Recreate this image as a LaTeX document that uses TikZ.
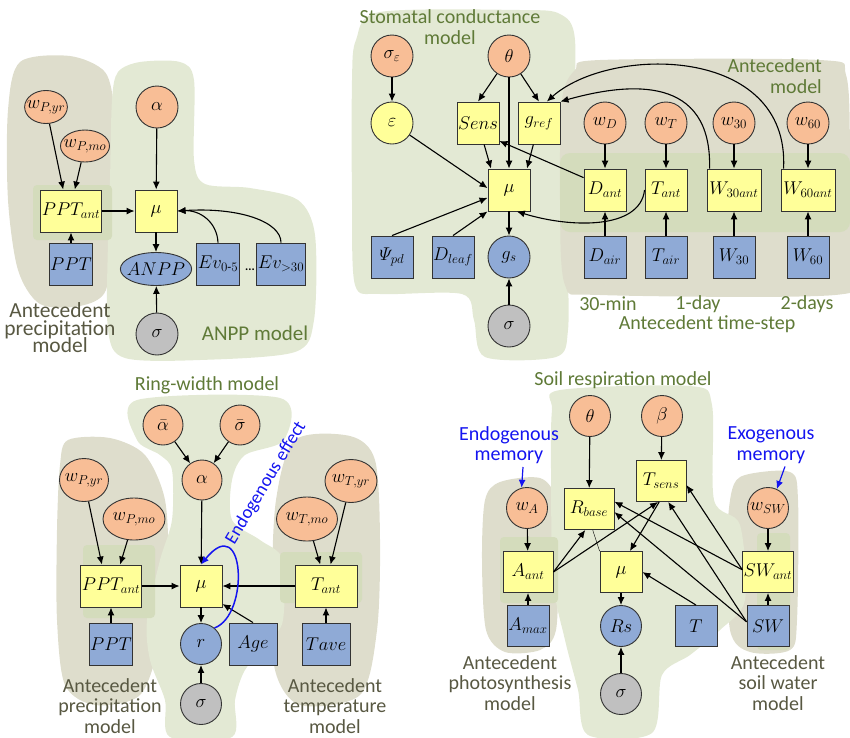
\RequirePackage{fix-cm}
\documentclass[tikz,border=0pt]{standalone}
\usepackage{fontspec}
\setmainfont{Carlito}
\usepackage{amsmath}
\usetikzlibrary{shapes, arrows.meta, calc}

\definecolor{parcol}{RGB}{248,190,150}
\definecolor{detcol}{RGB}{255,255,153}
\definecolor{datcol}{RGB}{143,170,214}
\definecolor{errcol}{RGB}{192,192,192}
\definecolor{bggreen}{RGB}{227,233,212}
\definecolor{bgkhaki}{RGB}{222,221,204}
\definecolor{bgband}{RGB}{212,220,188}
\definecolor{lblgreen}{RGB}{95,122,55}
\definecolor{lblgray}{RGB}{88,88,66}
\definecolor{memblue}{RGB}{20,20,240}

\newcommand{\tightlead}{\lineskiplimit=-30pt\relax}

\tikzset{
  vnode/.style={draw=black!80, line width=0.9pt, inner sep=1pt, font=\fontsize{18.5}{20}\selectfont},
  par/.style={vnode, circle, fill=parcol, minimum size=42pt},
  parell/.style={vnode, ellipse, fill=parcol, inner xsep=-4pt, inner ysep=-2pt},
  det/.style={vnode, rectangle, fill=detcol, minimum size=42pt},
  detcirc/.style={vnode, circle, fill=detcol, minimum size=42pt},
  dat/.style={vnode, rectangle, fill=datcol, minimum size=42pt},
  obs/.style={vnode, circle, fill=datcol, minimum size=42pt},
  err/.style={vnode, circle, fill=errcol, minimum size=42pt},
  lbl/.style={font=\fontsize{20}{20.5}\selectfont\tightlead, align=center, inner sep=0pt},
  arr/.style={-{Latex[length=8pt,width=7pt]}, line width=1.1pt},
}

\begin{document}
\begin{tikzpicture}[x=1pt,y=-1pt]
\useasboundingbox (0,0) rectangle (850,737);

%% backgrounds
% ANPP panel
\fill[bgkhaki] plot[smooth cycle] coordinates {(20,62) (70,56) (105,72) (114,110) (112,160) (108,230) (106,290) (80,306) (40,304) (18,270) (8,200) (8,110)};
\fill[bggreen] plot[smooth cycle] coordinates {(118,72) (140,62) (180,62) (194,80) (194,160) (205,184) (250,188) (298,200) (315,235) (314,320) (295,352) (200,360) (125,358) (108,330) (108,240) (110,180) (112,100)};
\fill[bgband, rounded corners=4pt] (33,185) rectangle (112,240);
% stomatal conductance panel
\fill[bggreen] plot[smooth cycle] coordinates {(356,40) (380,12) (520,10) (560,14) (575,40) (572,150) (568,250) (568,330) (556,357) (485,357) (474,320) (462,294) (380,294) (355,285) (352,200) (352,80)};
\fill[bgkhaki] plot[smooth cycle] coordinates {(575,70) (600,60) (820,60) (846,75) (850,150) (850,270) (835,295) (600,295) (565,285) (560,200) (562,100)};
\fill[bgband, rounded corners=10pt] (560,153) rectangle (850,232);
% ring-width panel
\fill[bgkhaki] plot[smooth cycle] coordinates {(68,440) (110,438) (145,455) (165,500) (168,570) (160,640) (140,695) (95,705) (65,685) (57,620) (57,530) (60,465)};
\fill[bgkhaki] plot[smooth cycle] coordinates {(295,440) (350,436) (375,460) (380,540) (377,630) (360,695) (300,705) (275,670) (272,590) (276,500)};
\fill[bggreen] plot[smooth cycle] coordinates {(137,400) (280,398) (284,440) (245,455) (232,480) (232,520) (260,540) (283,560) (283,620) (270,640) (245,670) (235,700) (232,737) (170,737) (165,700) (150,660) (147,620) (160,560) (172,520) (172,470) (160,455) (137,440)};
\fill[bgband, rounded corners=4pt] (83,545) rectangle (155,618);
\fill[bgband, rounded corners=4pt] (280,552) rectangle (362,603);
% soil respiration panel
\fill[bgkhaki] plot[smooth cycle] coordinates {(500,482) (540,478) (556,500) (558,560) (556,630) (540,650) (505,652) (486,630) (482,560) (485,500)};
\fill[bgkhaki] plot[smooth cycle] coordinates {(745,475) (790,472) (798,500) (797,620) (790,650) (750,652) (730,630) (727,540) (732,490)};
\fill[bggreen] plot[smooth cycle] coordinates {(560,390) (690,386) (712,405) (714,500) (740,525) (745,600) (720,630) (690,655) (662,675) (652,733) (588,735) (578,690) (565,640) (553,580) (551,470) (552,410)};
\fill[bgband, rounded corners=4pt] (500,537) rectangle (558,603);
\fill[bgband, rounded corners=4pt] (757,533) rectangle (790,650);

%% ANPP model
\node[parell, minimum width=38pt, minimum height=33pt] (wPyrA) at (46,107) {$w_{P,yr}$};
\node[parell, minimum width=40pt, minimum height=32pt] (wPmoA) at (85,146) {$w_{P,mo}$};
\node[det, minimum width=55pt] (pptAntA) at (71,211) {$PPT_{ant}$};
\node[dat] (pptA) at (71,264) {$PPT$};
\node[par] (alphaA) at (157,107) {$\alpha$};
\node[det] (muA) at (156,211) {$\mu$};
\node[vnode, ellipse, fill=datcol, inner xsep=-4pt, inner ysep=-2pt, minimum width=62pt, minimum height=33pt] (anpp) at (156,269) {$ANPP$};
\node[err] (sigmaA) at (157,334) {$\sigma$};
\node[dat, minimum width=38pt] (evLow) at (218,264) {$Ev_{0\text{-}5}$};
\node[dat] (evHigh) at (281,264) {$Ev_{>30}$};
\node[font=\bfseries\large] (dotsA) at (250,270) {...};

\draw[arr] (wPyrA) -- (pptAntA.110);
\draw[arr] (wPmoA) -- (pptAntA.80);
\draw[arr] (pptA) -- (pptAntA);
\draw[arr] (pptAntA) -- (muA);
\draw[arr] (alphaA) -- (muA);
\draw[arr] (muA) -- (anpp);
\draw[arr] (sigmaA) -- (anpp);
\draw[arr] (evLow.north) .. controls (217,222) and (200,210) .. (muA.east);
\draw[arr] (evHigh.north) .. controls (281,222) and (240,207) .. (muA.east);

\node[lbl, text=lblgray, font=\fontsize{21.5}{17.5}\selectfont\tightlead] (antPrecA) at (60,328) {Antecedent\\precipitation\\model};
\node[lbl, text=lblgreen, font=\fontsize{21}{21}\selectfont] (anppLbl) at (255,333) {ANPP model};

%% stomatal conductance model
\node[par] (sigEpsB) at (392,56) {$\sigma_\varepsilon$};
\node[par] (thetaB) at (509,56) {$\theta$};
\node[detcirc] (epsB) at (392,123) {$\varepsilon$};
\node[det] (sensB) at (478,123) {$Sens$};
\node[det] (grefB) at (539,123) {$g_{ref}$};
\node[det] (muB) at (509,190) {$\mu$};
\node[dat] (psiB) at (392,257) {$\varPsi_{pd}$};
\node[dat] (dleafB) at (453,257) {$D_{leaf}$};
\node[obs] (gsB) at (509,257) {$g_s$};
\node[err] (sigmaB) at (509,326) {$\sigma$};
\node[par] (wD) at (605,123) {$w_D$};
\node[par] (wT) at (666,123) {$w_T$};
\node[par] (w30) at (734,123) {$w_{30}$};
\node[par] (w60) at (808,123) {$w_{60}$};
\node[det] (dAnt) at (605,190) {$D_{ant}$};
\node[det] (tAnt) at (666,190) {$T_{ant}$};
\node[det, minimum width=54pt] (w30Ant) at (734,190) {$W_{30ant}$};
\node[det, minimum width=54pt] (w60Ant) at (808,190) {$W_{60ant}$};
\node[dat] (dAir) at (605,257) {$D_{air}$};
\node[dat] (tAir) at (666,257) {$T_{air}$};
\node[dat] (w30Dat) at (734,257) {$W_{30}$};
\node[dat] (w60Dat) at (808,257) {$W_{60}$};

\draw[arr] (sigEpsB) -- (epsB);
\draw[arr] (thetaB) -- (sensB.north);
\draw[arr] (thetaB) -- (muB);
\draw[arr] (thetaB) -- (grefB.north);
\draw[arr] (epsB) -- (muB.175);
\draw[arr] (sensB) -- (muB.130);
\draw[arr] (grefB) -- (muB.50);
\draw[arr] (psiB.north) -- (muB.200);
\draw[arr] (dleafB.north) -- (muB.south west);
\draw[arr] (muB) -- (gsB);
\draw[arr] (sigmaB) -- (gsB);
\foreach \w/\a/\d in {wD/dAnt/dAir, wT/tAnt/tAir, w30/w30Ant/w30Dat, w60/w60Ant/w60Dat}{
  \draw[arr] (\w) -- (\a);
  \draw[arr] (\d) -- (\a);
}
\draw[arr] (dAnt.150) -- (sensB.-40);
\draw[arr] (tAnt.west) .. controls (640,230) and (570,228) .. (muB.-70);
\draw[arr] ($(w30Ant.north west)+(3,0)$) .. controls (712,75) and (630,82) .. (grefB.north east);
\draw[arr] ($(w60Ant.north west)+(3,0)$) .. controls (790,45) and (610,45) .. (grefB.70);

\node[lbl, text=lblgreen] (stomLbl) at (450,27) {Stomatal conductance\\model};
\node[lbl, text=lblgreen, align=right, anchor=east] (antModLbl) at (822,76) {Antecedent\\model};
\node[lbl, text=lblgreen] (stepA) at (608,304) {30-min};
\node[lbl, text=lblgreen] (stepB) at (698,304) {1-day};
\node[lbl, text=lblgreen] (stepC) at (807,304) {2-days};
\node[lbl, text=lblgreen] (stepLbl) at (707,324) {Antecedent time-step};

%% ring-width model
\node[par, minimum size=40pt] (abarC) at (163,425) {$\bar{\alpha}$};
\node[par, minimum size=40pt] (sbarC) at (240,425) {$\bar{\sigma}$};
\node[par, minimum size=40pt] (alphaC) at (202,480) {$\alpha$};
\node[parell, minimum width=49pt, minimum height=43pt] (wPyrC) at (84,480) {$w_{P,yr}$};
\node[parell, minimum width=62pt, minimum height=42pt] (wPmoC) at (134,519) {$w_{P,mo}$};
\node[parell, minimum width=52pt, minimum height=43pt] (wTyrC) at (351,481) {$w_{T,yr}$};
\node[parell, minimum width=61pt, minimum height=44pt] (wTmoC) at (307,519) {$w_{T,mo}$};
\node[det, minimum width=55pt] (pptAntC) at (111,586) {$PPT_{ant}$};
\node[det] (muC) at (201,586) {$\mu$};
\node[det, minimum width=62pt] (tAntC) at (326,586) {$T_{ant}$};
\node[dat] (pptC) at (111,644) {$PPT$};
\node[obs, minimum size=41pt] (rC) at (201,644) {$r$};
\node[dat, minimum width=48pt] (ageC) at (253,644) {$Age$};
\node[dat, minimum width=48pt] (taveC) at (326,644) {$Tave$};
\node[err, minimum size=41pt] (sigmaC) at (201,704) {$\sigma$};

\draw[arr] (abarC) -- (alphaC);
\draw[arr] (sbarC) -- (alphaC);
\draw[arr] (alphaC) -- (muC);
\draw[arr] (wPyrC) -- (pptAntC.113);
\draw[arr] (wPmoC) -- (pptAntC.67);
\draw[arr] (wTmoC) -- (tAntC.105);
\draw[arr] (wTyrC) -- (tAntC.78);
\draw[arr] (pptC) -- (pptAntC);
\draw[arr] (taveC) -- (tAntC);
\draw[arr] (pptAntC) -- (muC);
\draw[arr] (tAntC) -- (muC);
\draw[arr] (muC) -- (rC);
\draw[arr] (sigmaC) -- (rC);
\draw[arr] (ageC.north) -- (muC.-40);
\draw[arr, memblue, line width=1.5pt] (rC.50) .. controls (250,615) and (245,510) .. (muC.north);

\node[lbl, text=lblgreen] (ringLbl) at (207,385) {Ring-width model};
\node[lbl, text=memblue, font=\fontsize{18.5}{20}\selectfont, rotate=59] (endoEff) at (266,483) {Endogenous effect};
\node[lbl, text=lblgray] (antPrecC) at (110,706) {Antecedent\\precipitation\\model};
\node[lbl, text=lblgray] (antTempC) at (335,706) {Antecedent\\temperature\\model};

%% soil respiration model
\node[par, minimum size=41pt] (thetaD) at (590,416) {$\theta$};
\node[par, minimum size=41pt] (betaD) at (662,416) {$\beta$};
\node[par, minimum size=41pt] (wA) at (527,508) {$w_A$};
\node[par, minimum size=41pt] (wSW) at (768,508) {$w_{SW}$};
\node[det, minimum width=50pt, minimum height=41pt] (rBase) at (589,509) {$R_{base}$};
\node[det, minimum width=50pt, minimum height=41pt] (tSens) at (661,481) {$T_{sens}$};
\node[det, minimum width=50pt, minimum height=41pt] (aAnt) at (528,572) {$A_{ant}$};
\node[det, minimum height=41pt] (muD) at (621,572) {$\mu$};
\node[det, minimum width=50pt, minimum height=41pt] (swAnt) at (768,572) {$SW_{ant}$};
\node[dat, minimum height=41pt] (aMax) at (528,626) {$A_{max}$};
\node[obs, minimum size=41pt] (rsD) at (621,626) {$Rs$};
\node[dat, minimum height=41pt] (tD) at (696,626) {$T$};
\node[dat, minimum height=41pt] (swD) at (768,626) {$SW$};
\node[err, minimum size=41pt] (sigmaD) at (621,694) {$\sigma$};

\draw[arr] (thetaD) -- (rBase);
\draw[arr] (betaD) -- (tSens);
\draw[arr] (wA) -- (aAnt);
\draw[arr] (aMax) -- (aAnt);
\draw[arr] (wSW) -- (swAnt);
\draw[arr] (swD) -- (swAnt);
\draw[arr] (muD) -- (rsD);
\draw[arr] (sigmaD) -- (rsD);
\draw[arr] (tD.north) -- (muD.east);
\draw[arr] (aAnt.east) -- (rBase.-100);
\draw[arr] (aAnt.east) -- (tSens.-98);
\draw (rBase.-80) -- (muD.north west);
\draw[arr] (tSens.-95) -- (muD.67);
\draw[arr] (swAnt.175) -- (rBase.16);
\draw[arr] (swAnt.175) -- (tSens.-9);
\draw[arr] (swD.169) -- (rBase.-7);
\draw[arr] (swD.169) -- (tSens.-71);

\node[lbl, text=lblgreen] (soilLbl) at (623,380) {Soil respiration model};
\node[lbl, text=memblue] (endoMem) at (509,445) {Endogenous\\memory};
\node[lbl, text=memblue] (exoMem) at (771,445) {Exogenous\\memory};
\draw[arr, memblue, line width=1.2pt] ($(endoMem.south)+(14,3)$) -- (wA.105);
\draw[arr, memblue, line width=1.2pt] ($(exoMem.south)+(14,3)$) -- (wSW.65);
\node[lbl, text=lblgray] (antPhoto) at (510,683) {Antecedent\\photosynthesis\\model};
\node[lbl, text=lblgray] (antSoil) at (778,683) {Antecedent\\soil water\\model};

\end{tikzpicture}
\end{document}
